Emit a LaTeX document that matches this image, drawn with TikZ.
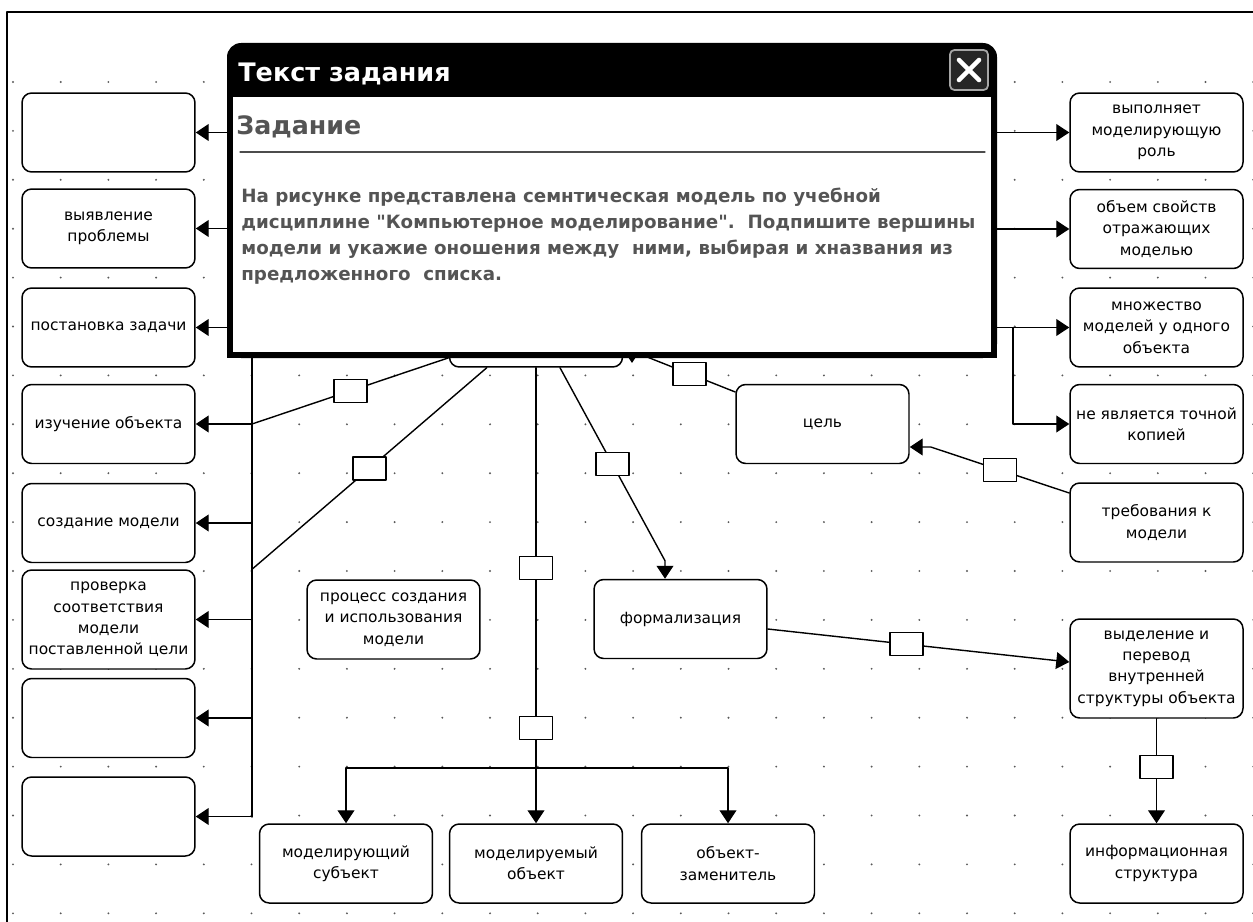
\documentclass[tikz,border=0pt]{standalone}
\usepackage{fontspec}
\setmainfont{DejaVu Sans}
\usetikzlibrary{arrows.meta,calc}

\tikzset{
  vertex/.style={draw,fill=white,line width=0.85pt,rounded corners=5.5pt,minimum width=3.46cm,minimum height=1.58cm,inner sep=1pt,align=center,font=\fontsize{8.8}{12.2}\selectfont},
  tall/.style={minimum height=1.98cm},
  tag/.style={draw,fill=white,line width=0.75pt,minimum width=0.66cm,minimum height=0.46cm,inner sep=0pt},
  wire/.style={line width=0.8pt},
  link/.style={line width=0.8pt,-{Triangle[length=7.4pt,width=9.6pt]}},
  tasktext/.style={anchor=base west,inner sep=0pt,text=black!67,font=\fontsize{10.4}{14.7}\selectfont\bfseries}
}

\begin{document}
\begin{tikzpicture}[line cap=round,line join=round,x=0.02cm,y=-0.02cm]
\useasboundingbox (0,0) rectangle (1253,922);
\draw [line width=1.2pt] (7,922) -- (7,12) -- (1253,12);
\foreach \i in {0,...,26}
  \foreach \j in {0,...,17}
    \fill [black!65] (13+47.7*\i,82+48.9*\j) circle [radius=0.6pt];

\node[vertex] (left1) at (108.5,132.5) {};
\node[vertex] (left2) at (108.5,228.5) {выявление\\проблемы};
\node[vertex] (left3) at (108.5,327.5) {постановка задачи};
\node[vertex] (left4) at (108.5,424) {изучение объекта};
\node[vertex] (left5) at (108.5,523) {создание модели};
\node[vertex,tall] (left6) at (108.5,619.5) {проверка\\соответствия\\модели\\поставленной цели};
\node[vertex] (left7) at (108.5,718) {};
\node[vertex] (left8) at (108.5,816.5) {};

\node[vertex] (right1) at (1156.5,132.5) {выполняет\\моделирующую\\роль};
\node[vertex] (right2) at (1156.5,229) {объем свойств\\отражающих\\моделью};
\node[vertex] (right3) at (1156.5,327.5) {множество\\моделей у одного\\объекта};
\node[vertex] (right4) at (1156.5,424) {не является точной\\копией};
\node[vertex] (req) at (1156.5,522.5) {требования к\\модели};
\node[vertex,tall] (struct) at (1156.5,668.5) {выделение и\\перевод\\внутренней\\структуры объекта};
\node[vertex] (info) at (1156.5,863.5) {информационная\\структура};

\node[vertex] (core) at (536,327.5) {};
\node[vertex] (goal) at (822.5,424) {цель};
\node[vertex] (process) at (393.5,619.5) {процесс создания\\и использования\\модели};
\node[vertex] (formal) at (680.5,619) {формализация};
\node[vertex] (subj) at (346,863.5) {моделирующий\\субъект};
\node[vertex] (obj) at (536,863.5) {моделируемый\\объект};
\node[vertex] (subst) at (728,863.5) {объект-\\заменитель};

\coordinate (bus) at (252,133);
\coordinate (busend) at (252,817);
\draw[wire] (bus) -- (busend);
\foreach \n in {left1,left2,left3,left4,left5,left6,left7,left8}
  \draw[link] (\n.east -| bus) -- (\n.east);
\draw[wire] (left4.east -| bus) -- node[tag] {} ($(core.south west)+(0,-10)$);
\draw[wire] ($(core.south west)+(38,0)$) -- node[tag] {} (left6.north -| bus);

\coordinate (fork) at (536,768);
\draw[wire] (core.south) -- node[tag,pos=.5] {} node[tag,pos=.9] {} (fork);
\draw[link] (fork) -- (obj.north);
\draw[link] (fork) -| (subj.north);
\draw[link] (fork) -| (subst.north);

\coordinate (bend1) at ($(formal.north)+(-15.5,-18)$);
\draw[link] ($(core.south)+(24,0)$) -- node[tag] {} (bend1) -- (bend1 |- formal.north);
\draw[link] ($(formal.east)+(0,10)$) -- node[tag,pos=.46] {} ($(struct.west)+(0,-6.5)$);
\draw[link] (struct.south) -- node[tag,pos=.46] {} (info.north);

\coordinate (bend2) at ($(goal.east)+(21,23)$);
\draw[link] ($(req.west)+(0,-29.5)$) -- node[tag] {} (bend2) -- (bend2 -| goal.east);
\draw[wire] ($(goal.west)+(0,-32)$) -- node[tag,pos=.41] {} ($(core.east)+(0,20)$);
\coordinate (tip) at (632,363);
\draw[link] ($(tip)+(0,-40)$) -- (tip);

\coordinate (rbus) at (975,133);
\coordinate (rfork) at (1013,328);
\draw[link] (right1.west -| rbus) -- (right1.west);
\draw[link] (right2.west -| rbus) -- (right2.west);
\draw[link] (right3.west -| rbus) -- (right3.west);
\draw[link] (rfork) |- (right4.west);

\fill [black,rounded corners=8pt] (227,43) rectangle (997,358);
\fill [black] (227,200) rectangle (997,358);
\fill [white] (233,97) rectangle (991,352);
\node[anchor=base west,inner sep=0pt,text=white,font=\fontsize{14.5}{17}\selectfont\bfseries] (title) at (238,82) {Текст задания};
\draw [fill=black!85,draw=black!35,line width=1pt,rounded corners=2.5pt] (950,50) rectangle (988,90);
\draw [white,line width=2.6pt] (959,60) -- (979,80) (979,60) -- (959,80);
\node[anchor=base west,inner sep=0pt,text=black!67,font=\fontsize{14.4}{17}\selectfont\bfseries] (head) at (236,135) {Задание};
\draw [black!70,line width=0.7pt] (240,152) -- (985,152);
\node[tasktext] (task1) at (241,202) {На рисунке представлена семнтическая модель по учебной};
\node[tasktext] (task2) at (241,228) {дисциплине \textquotedbl Компьютерное моделирование\textquotedbl.\ \ Подпишите вершины};
\node[tasktext] (task3) at (241,254) {модели и укажие оношения между\ \ ними, выбирая и хназвания из};
\node[tasktext] (task4) at (241,280) {предложенного\ \ списка.};
\end{tikzpicture}
\end{document}
